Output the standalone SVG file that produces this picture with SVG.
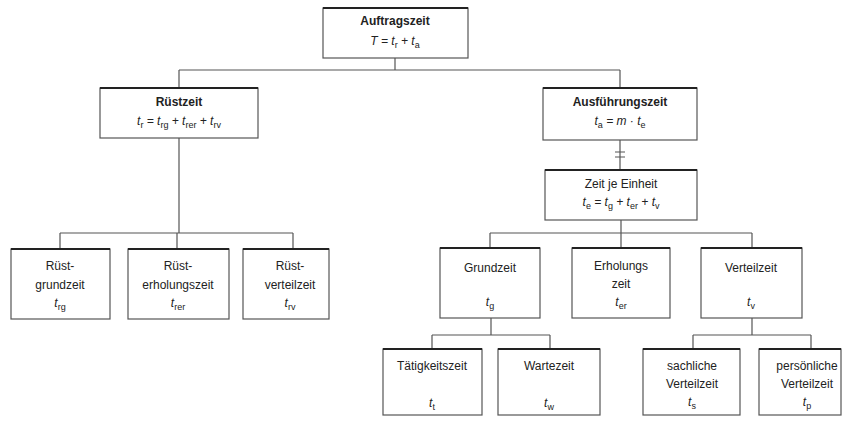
<svg xmlns="http://www.w3.org/2000/svg" width="850" height="421" viewBox="0 0 850 421">
<style>
.box{fill:#fff;stroke:#555;stroke-width:1.2}
.top{stroke:#222;stroke-width:2}
.c{fill:none;stroke:#555;stroke-width:1.2}
text{font-family:"Liberation Sans",Arial,sans-serif;font-size:12px;fill:#222;text-anchor:middle}
.b{font-weight:bold}
.i{font-style:italic}
.s{font-size:9px;font-style:normal}
</style>
<rect width="850" height="421" fill="#fff"/>
<g id="connectors">
<path class="c" d="M395 58V70M179 70H620M179 70V88M620 70V88"/>
<path class="c" d="M179 138V233M60 233H293M60 233V249M177 233V249M293 233V249"/>
<path class="c" d="M620 140V170M615 152H625M615 157H625"/>
<path class="c" d="M621 220V233M490 233H752M490 233V248M621 233V248M752 233V248"/>
<path class="c" d="M491 318V335M432 335H550M432 335V349M550 335V349"/>
<path class="c" d="M752 318V335M693 335H811M693 335V349M811 335V349"/>
</g>
<g id="auftragszeit">
<rect class="box" x="323" y="8" width="145" height="50"/>
<line class="top" x1="323" y1="8" x2="468" y2="8"/>
<text class="b" x="395" y="25">Auftragszeit</text>
<text class="i" x="395" y="45">T = t<tspan class="s" dy="3">r</tspan><tspan dy="-3"> + t</tspan><tspan class="s" dy="3">a</tspan></text>
</g>
<g id="ruestzeit">
<rect class="box" x="100" y="88" width="158" height="50"/>
<line class="top" x1="100" y1="88" x2="258" y2="88"/>
<text class="b" x="179" y="106">Rüstzeit</text>
<text class="i" x="179" y="125">t<tspan class="s" dy="3">r</tspan><tspan dy="-3"> = t</tspan><tspan class="s" dy="3">rg</tspan><tspan dy="-3"> + t</tspan><tspan class="s" dy="3">rer</tspan><tspan dy="-3"> + t</tspan><tspan class="s" dy="3">rv</tspan></text>
</g>
<g id="ausfuehrungszeit">
<rect class="box" x="543" y="88" width="154" height="52"/>
<line class="top" x1="543" y1="88" x2="697" y2="88"/>
<text class="b" x="620" y="106">Ausführungszeit</text>
<text class="i" x="620" y="125">t<tspan class="s" dy="3">a</tspan><tspan dy="-3"> = m · t</tspan><tspan class="s" dy="3">e</tspan></text>
</g>
<g id="zeit-je-einheit">
<rect class="box" x="545" y="170" width="152" height="50"/>
<line class="top" x1="545" y1="170" x2="697" y2="170"/>
<text x="621" y="188">Zeit je Einheit</text>
<text class="i" x="621" y="206">t<tspan class="s" dy="3">e</tspan><tspan dy="-3"> = t</tspan><tspan class="s" dy="3">g</tspan><tspan dy="-3"> + t</tspan><tspan class="s" dy="3">er</tspan><tspan dy="-3"> + t</tspan><tspan class="s" dy="3">v</tspan></text>
</g>
<g id="ruest-grundzeit">
<rect class="box" x="11" y="249" width="99" height="70"/>
<line class="top" x1="11" y1="249" x2="110" y2="249"/>
<text x="60" y="270">Rüst-</text>
<text x="60" y="289">grundzeit</text>
<text class="i" x="60" y="307">t<tspan class="s" dy="3">rg</tspan></text>
</g>
<g id="ruest-erholungszeit">
<rect class="box" x="128" y="249" width="101" height="70"/>
<line class="top" x1="128" y1="249" x2="229" y2="249"/>
<text x="178" y="270">Rüst-</text>
<text x="178" y="289">erholungszeit</text>
<text class="i" x="178" y="307">t<tspan class="s" dy="3">rer</tspan></text>
</g>
<g id="ruest-verteilzeit">
<rect class="box" x="243" y="249" width="86" height="70"/>
<line class="top" x1="243" y1="249" x2="329" y2="249"/>
<text x="290" y="270">Rüst-</text>
<text x="290" y="289">verteilzeit</text>
<text class="i" x="290" y="307">t<tspan class="s" dy="3">rv</tspan></text>
</g>
<g id="grundzeit">
<rect class="box" x="440" y="248" width="100" height="70"/>
<line class="top" x1="440" y1="248" x2="540" y2="248"/>
<text x="490" y="272">Grundzeit</text>
<text class="i" x="490" y="306">t<tspan class="s" dy="3">g</tspan></text>
</g>
<g id="erholungszeit">
<rect class="box" x="572" y="248" width="98" height="70"/>
<line class="top" x1="572" y1="248" x2="670" y2="248"/>
<text x="621" y="270">Erholungs</text>
<text x="621" y="288">zeit</text>
<text class="i" x="621" y="306">t<tspan class="s" dy="3">er</tspan></text>
</g>
<g id="verteilzeit">
<rect class="box" x="701" y="248" width="101" height="70"/>
<line class="top" x1="701" y1="248" x2="802" y2="248"/>
<text x="751" y="272">Verteilzeit</text>
<text class="i" x="751" y="306">t<tspan class="s" dy="3">v</tspan></text>
</g>
<g id="taetigkeitszeit">
<rect class="box" x="383" y="349" width="99" height="66"/>
<line class="top" x1="383" y1="349" x2="482" y2="349"/>
<text x="432" y="370">Tätigkeitszeit</text>
<text class="i" x="432" y="407">t<tspan class="s" dy="3">t</tspan></text>
</g>
<g id="wartezeit">
<rect class="box" x="498" y="349" width="102" height="66"/>
<line class="top" x1="498" y1="349" x2="600" y2="349"/>
<text x="549" y="370">Wartezeit</text>
<text class="i" x="549" y="407">t<tspan class="s" dy="3">w</tspan></text>
</g>
<g id="sachliche-verteilzeit">
<rect class="box" x="643" y="349" width="97" height="66"/>
<line class="top" x1="643" y1="349" x2="740" y2="349"/>
<text x="692" y="370">sachliche</text>
<text x="692" y="388">Verteilzeit</text>
<text class="i" x="692" y="406">t<tspan class="s" dy="3">s</tspan></text>
</g>
<g id="persoenliche-verteilzeit">
<rect class="box" x="759" y="349" width="82" height="66"/>
<line class="top" x1="759" y1="349" x2="841" y2="349"/>
<text x="807" y="370">persönliche</text>
<text x="807" y="388">Verteilzeit</text>
<text class="i" x="807" y="406">t<tspan class="s" dy="3">p</tspan></text>
</g>
</svg>
